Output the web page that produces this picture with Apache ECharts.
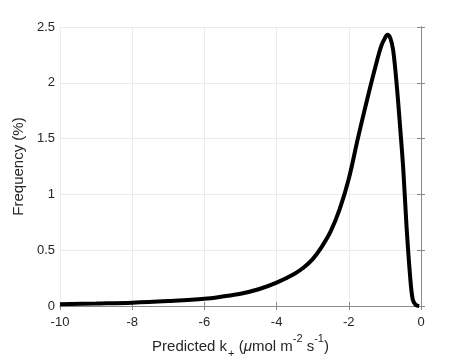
<!DOCTYPE html>
<html>
<head>
<meta charset="utf-8">
<script src="https://cdn.jsdelivr.net/npm/echarts@6/dist/echarts.min.js"></script>
<style>html,body{margin:0;padding:0;background:#fff;}#c{width:464px;height:358px;}</style>
</head>
<body>
<div id="c"></div>
<script>
var kValues = [-10, -9, -8, -7, -6, -5.5, -5, -4.5, -4, -3.5, -3.25, -3, -2.75, -2.5, -2.25, -2.0, -1.75, -1.5, -1.25, -1.1, -1.0, -0.93, -0.85, -0.77, -0.67, -0.58, -0.49, -0.40, -0.30, -0.23, -0.15, -0.1, -0.05];
var freqValues = [0.015, 0.022, 0.030, 0.045, 0.065, 0.085, 0.11, 0.15, 0.21, 0.29, 0.345, 0.42, 0.53, 0.67, 0.87, 1.14, 1.50, 1.84, 2.16, 2.33, 2.40, 2.43, 2.40, 2.29, 1.97, 1.61, 1.22, 0.71, 0.26, 0.06, 0.01, 0.003, 0];
var xTicks = [-10, -8, -6, -4, -2, 0];
var yTicks = [0, 0.5, 1, 1.5, 2, 2.5];

var font = 'Liberation Sans, Arial, sans-serif';
var axisColor = '#8a8a8a';
var labelColor = '#262626';
var chart = echarts.init(document.getElementById('c'));
var data = kValues.map(function (k, i) { return [k, freqValues[i]]; });
var baseAxis = {
  axisLine: { show: true, lineStyle: { color: axisColor, width: 1 } },
  axisTick: { show: true, inside: true, length: 4, lineStyle: { color: axisColor } },
  splitLine: { show: false }
};
chart.setOption({
  animation: false,
  backgroundColor: '#fff',
  grid: { left: 60, top: 27, right: 43, bottom: 52, containLabel: false, outerBoundsMode: 'none' },
  xAxis: [
    Object.assign({}, baseAxis, {
      type: 'value', min: xTicks[0], max: xTicks[xTicks.length - 1], interval: 2,
      position: 'bottom',
      axisLabel: { color: labelColor, fontSize: 13, fontFamily: font, margin: 10 },
      splitLine: { show: true, lineStyle: { color: '#ebebeb' } },
      name: '{a|Predicted k}{sub|+}{a| (}{mu|μ}{a|mol m}{sup|-2}{a| s}{sup|-1}{a|)}',
      nameLocation: 'middle', nameGap: 27,
      nameTextStyle: {
        color: labelColor, fontFamily: font, fontSize: 15,
        rich: {
          a: { fontSize: 15, fontFamily: font, color: labelColor, verticalAlign: 'bottom', lineHeight: 20 },
          mu: { fontSize: 15, fontFamily: font, color: labelColor, fontStyle: 'italic', verticalAlign: 'bottom', lineHeight: 20 },
          sub: { fontSize: 11, fontFamily: font, color: labelColor, verticalAlign: 'bottom', lineHeight: 20, padding: [0, 0, -6, 1] },
          sup: { fontSize: 11, fontFamily: font, color: labelColor, verticalAlign: 'top', lineHeight: 20, padding: [0, 0, 4, 0] }
        }
      }
    }),
    Object.assign({}, baseAxis, {
      type: 'value', min: xTicks[0], max: xTicks[xTicks.length - 1], interval: 2,
      position: 'top', axisLabel: { show: false }
    })
  ],
  yAxis: [
    Object.assign({}, baseAxis, {
      type: 'value', min: yTicks[0], max: yTicks[yTicks.length - 1], interval: 0.5,
      position: 'left',
      axisLabel: { color: labelColor, fontSize: 13, fontFamily: font, margin: 5 },
      splitLine: { show: true, lineStyle: { color: '#ebebeb' } },
      name: 'Frequency (%)', nameLocation: 'middle', nameGap: 24,
      nameTextStyle: { color: labelColor, fontFamily: font, fontSize: 15 }
    }),
    Object.assign({}, baseAxis, {
      type: 'value', min: yTicks[0], max: yTicks[yTicks.length - 1], interval: 0.5,
      position: 'right', axisLabel: { show: false }
    })
  ],
  series: [{
    type: 'line', data: data, smooth: 0.35, showSymbol: false,
    lineStyle: { color: '#000', width: 4 },
    xAxisIndex: 0, yAxisIndex: 0, clip: false
  }]
});
</script>
</body>
</html>
